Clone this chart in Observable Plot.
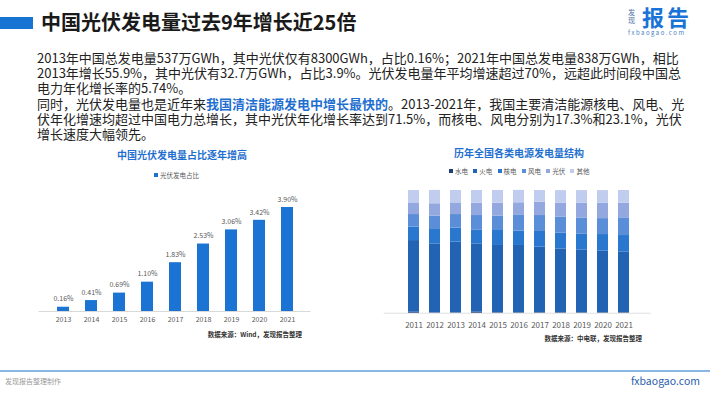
<!DOCTYPE html>
<html><head><meta charset="utf-8">
<script src="https://cdn.jsdelivr.net/npm/d3@7"></script>
<script src="https://cdn.jsdelivr.net/npm/@observablehq/plot@0.6"></script>
<style>
body{margin:0;background:#fff;font-family:"Noto Sans CJK SC","Noto Sans",sans-serif;}
#page{position:relative;width:710px;height:399px;overflow:hidden;background:#fff;}
.abs{position:absolute;white-space:nowrap;}
.para div{height:15.2px;line-height:15.2px;}
.hl{color:#1f6fd0;font-weight:bold;}
.lg{display:inline-block;width:4px;height:4px;margin-right:2px;vertical-align:middle;position:relative;top:-1px;}
</style></head><body>
<div id="page">
  <div class="abs" style="left:0;top:17px;width:33px;height:12px;background:#1874d3;"></div>
  <div class="abs" style="left:41px;top:10px;font-size:20px;line-height:24px;font-weight:bold;color:#1a1a1a;">中国光伏发电量过去9年增长近25倍</div>
  <div class="abs" style="left:628px;top:8px;font-size:7px;line-height:8px;color:#4a6fa5;">发<br>现</div>
  <div class="abs" style="left:642px;top:6px;font-size:22px;line-height:21px;height:21px;font-weight:bold;color:#1a73d6;letter-spacing:3px;">报告</div>
  <div class="abs" style="left:628px;top:29px;font-size:6px;line-height:8px;letter-spacing:1.5px;color:#4a7fc1;">fxbaogao.com</div>

  <div class="abs para" style="left:37px;top:50px;font-size:13px;color:#222;">
    <div>2013年中国总发电量537万GWh，其中光伏仅有8300GWh，占比0.16%；2021年中国总发电量838万GWh，相比</div>
    <div>2013年增长55.9%，其中光伏有32.7万GWh，占比3.9%。光伏发电量年平均增速超过70%，远超此时间段中国总</div>
    <div>电力年化增长率的5.74%。</div>
    <div>同时，光伏发电量也是近年来<span class="hl">我国清洁能源发电中增长最快的</span>。2013-2021年，我国主要清洁能源核电、风电、光</div>
    <div>伏年化增速均超过中国电力总增长，其中光伏年化增长率达到71.5%，而核电、风电分别为17.3%和23.1%，光伏</div>
    <div>增长速度大幅领先。</div>
  </div>

  <div class="abs" style="left:117px;top:148px;font-size:10px;line-height:14px;font-weight:bold;color:#1f6fcf;">中国光伏发电量占比逐年增高</div>
  <div class="abs" style="left:154px;top:171px;font-size:6.5px;line-height:9px;color:#595959;"><span class="lg" style="background:#1b74d4"></span>光伏发电占比</div>
  <div id="c1" class="abs" style="left:20px;top:180px;"></div>
  <div class="abs" style="right:408px;top:330px;font-size:6.5px;line-height:9px;color:#333;font-weight:bold;">数据来源：Wind，发现报告整理</div>

  <div class="abs" style="left:454px;top:146px;font-size:10px;line-height:14px;font-weight:bold;color:#1f6fcf;">历年全国各类电源发电量结构</div>
  <div id="lg2" class="abs" style="left:449px;top:166.5px;font-size:6.5px;line-height:9px;color:#595959;"></div>
  <div id="c2" class="abs" style="left:380px;top:180px;"></div>
  <div class="abs" style="right:68px;top:334px;font-size:6.5px;line-height:9px;color:#333;font-weight:bold;">数据来源：中电联，发现报告整理</div>

  <div class="abs" style="left:0;top:370px;width:710px;height:1.5px;background:#8ab8e6;"></div>
  <div class="abs" style="left:5px;top:376px;font-size:7px;line-height:10px;color:#9a9a9a;">发现报告整理制作</div>
  <div class="abs" style="right:10px;top:374px;font-size:10.5px;line-height:14px;color:#2b5fad;">fxbaogao.com</div>
</div>
<script>
// Left chart data
const years1 = ["2013","2014","2015","2016","2017","2018","2019","2020","2021"];
const pvShare = [0.16,0.41,0.69,1.10,1.83,2.53,3.06,3.42,3.90];

// Right chart data (% of total generation)
const years2 = ["2011","2012","2013","2014","2015","2016","2017","2018","2019","2020","2021"];
const seriesNames = ["水电","火电","核电","风电","光伏","其他"];
const hydro   = [0.8,0.3,0.3,0.8,0.4,0.4,0.4,0.4,0.4,0.4,0.4];
const thermal = [58.4,56.2,57.6,55.7,54.8,54.8,53.4,52.0,51.2,50.1,49.3];
const nuclear = [10.9,11.7,11.4,11.4,12.2,11.7,12.8,12.8,13.0,13.6,13.6];
const wind    = [10.3,10.9,11.1,11.7,11.7,12.8,13.0,13.0,13.0,13.0,14.4];
const solar   = [9.5,10.1,9.5,10.1,10.6,10.3,10.9,11.4,12.0,12.5,12.0];
const other   = [10.1,10.9,10.1,10.3,10.3,10.1,9.5,10.3,10.3,10.3,10.3];
const seriesColors = ["#1d3f74","#2264b3","#2a77d0","#5a8ed8","#92a8de","#c1cdee"];

const font = '"Noto Sans CJK SC","Noto Sans",sans-serif';

const d1 = years1.map((y,i)=>({year:y, v:pvShare[i], label:pvShare[i].toFixed(2)+"%"}));
const p1 = Plot.plot({
  width:300, height:150,
  marginLeft:18.6, marginRight:9.4, marginTop:11, marginBottom:19,
  x:{domain:years1, padding:0.58, label:null, axis:null},
  y:{domain:[0,4.5], axis:null},
  style:{fontFamily:font, fontSize:"7px", color:"#595959", background:"transparent", overflow:"visible"},
  marks:[
    Plot.ruleY([0],{stroke:"#d9d9d9", strokeWidth:1}),
    Plot.barY(d1,{x:"year", y:"v", fill:"#1b74d4"}),
    Plot.text(d1,{x:"year", y:"v", text:"label", dy:-8, fill:"#595959", fontSize:7}),
    Plot.axisX({tickSize:0, tickPadding:5.5, fontSize:7, fill:"#595959"})
  ]
});
document.getElementById("c1").appendChild(p1);

const cols = [hydro,thermal,nuclear,wind,solar,other];
const d2 = [];
seriesNames.forEach((s,si)=>{
  years2.forEach((y,i)=>d2.push({year:y, series:s, v:cols[si][i]}));
});
const p2 = Plot.plot({
  width:270, height:160,
  marginLeft:15.7, marginRight:9.3, marginTop:10, marginBottom:27.3,
  x:{domain:years2, padding:0.5, label:null, axis:null},
  y:{domain:[0,100], axis:null},
  color:{domain:seriesNames, range:seriesColors},
  style:{fontFamily:font, fontSize:"8px", color:"#595959", background:"transparent", overflow:"visible"},
  marks:[
    Plot.ruleY([0],{stroke:"#e0e0e0", strokeWidth:1, insetLeft:-12, insetRight:-10}),
    Plot.barY(d2,{x:"year", y:"v", fill:"series", order:seriesNames}),
    Plot.axisX({tickSize:0, tickPadding:9, fontSize:8, fill:"#595959"})
  ]
});
document.getElementById("c2").appendChild(p2);

const lg = document.getElementById("lg2");
seriesNames.forEach((s,i)=>{
  const sp = document.createElement("span");
  sp.style.display="inline-block";
  sp.style.width="24.3px";
  sp.innerHTML = `<span class="lg" style="background:${seriesColors[i]}"></span>${s}`;
  lg.appendChild(sp);
});
</script>
</body></html>
